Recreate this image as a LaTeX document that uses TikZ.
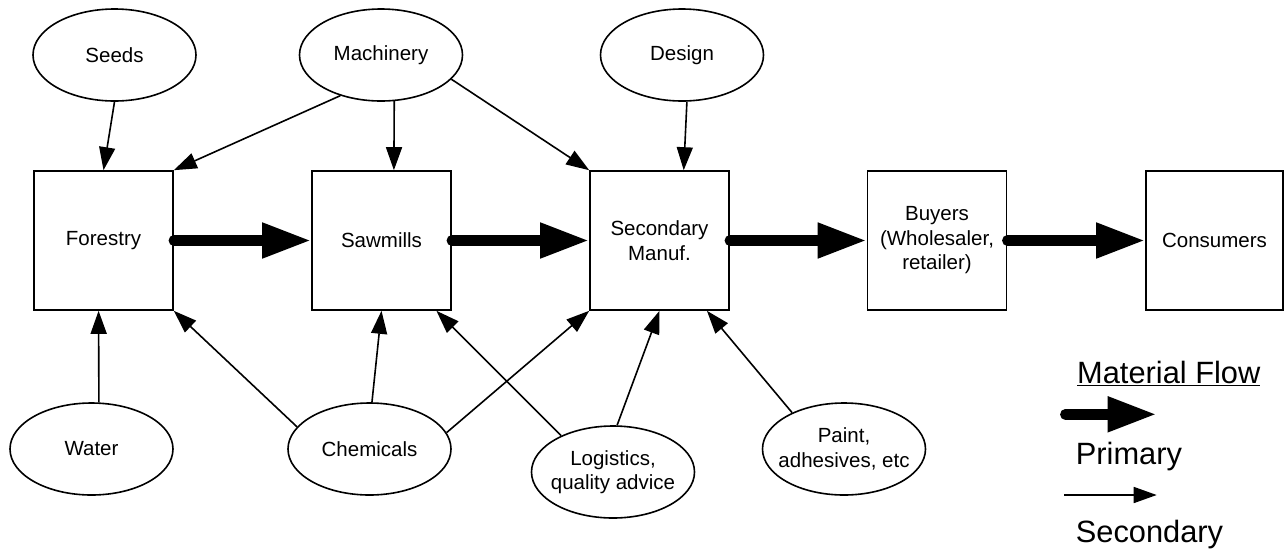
\documentclass[tikz,border=0pt]{standalone}
\usepackage{fontspec}
\setmainfont{Liberation Sans}
\usetikzlibrary{arrows.meta,shapes.geometric}
\tikzset{
	stage/.style={draw,line width=1.6pt,minimum width=139pt,minimum height=139pt,inner sep=0pt,align=center,font=\fontsize{20.5}{24.5}\selectfont},
	input/.style={draw,ellipse,line width=1.6pt,minimum width=163pt,minimum height=92pt,inner xsep=-30pt,inner ysep=-20pt,align=center,font=\fontsize{20.5}{24.5}\selectfont},
	sec/.style={line width=1.6pt,-{Triangle[length=23pt,width=16pt]}},
	prim/.style={line width=10.5pt,line cap=round,-{Triangle[length=49pt,width=33pt]}},
	legend/.style={anchor=base west,inner sep=0pt,font=\fontsize{30.8}{36}\selectfont}
}

\begin{document}
\begin{tikzpicture}[x=1pt,y=-1pt]
	\useasboundingbox (0,0) rectangle (1284,552);
	\node [stage] (forestry) at (103.5,240.5) {Forestry};
	\node [stage] (sawmills) at (381.5,240.5) {Sawmills};
	\node [stage] (secmanuf) at (659.5,240.5) {Secondary\\Manuf.};
	\node [stage] (buyers) at (937,240.5) {Buyers\\(Wholesaler,\\retailer)};
	\node [stage,minimum width=137pt] (consumers) at (1214.5,240.5) {Consumers};

	\node [input] (seeds) at (114.5,55) {Seeds};
	\node [input] (machinery) at (381,55) {Machinery};
	\node [input] (design) at (682,55) {Design};
	\node [input] (water) at (91.5,449) {Water};
	\node [input] (chemicals) at (369.5,449) {Chemicals};
	\node [input] (logistics) at (613,472) {Logistics,\\quality advice};
	\node [input] (paint) at (844,449) {Paint,\\adhesives, etc};

	\draw [prim] (forestry.east) -- (sawmills.west);
	\draw [prim] (sawmills.east) -- (secmanuf.west);
	\draw [prim] (secmanuf.east) -- (buyers.west);
	\draw [prim] (buyers.east) -- (consumers.west);

	\draw [sec] (seeds.south) -- (forestry.north);
	\draw [sec] (machinery.225) -- (forestry.north east);
	\draw [sec] (machinery.-74) -- (sawmills.80);
	\draw [sec] (machinery.-19) -- (secmanuf.north west);
	\draw [sec] (design.-84) -- (secmanuf.71);
	\draw [sec] (water.81) -- (forestry.-94);
	\draw [sec] (chemicals.163) -- (forestry.south east);
	\draw [sec] (chemicals.87) -- (sawmills.south);
	\draw [sec] (chemicals.12) -- (secmanuf.south west);
	\draw [sec] (logistics.145) -- (sawmills.-52);
	\draw [sec] (logistics.85) -- (secmanuf.south);
	\draw [sec] (paint.145) -- (secmanuf.-56);

	\node [legend] (flowtitle) at (1077,383.3) {\underline{Material Flow}};
	\coordinate (pstart) at (1065.3,414.3);
	\coordinate (pend) at (1156.7,414.3);
	\draw [prim] (pstart) -- (pend);
	\node [legend] (primlabel) at (1075.7,464.3) {Primary};
	\coordinate (sstart) at (1064,495);
	\coordinate (send) at (1156.7,495);
	\draw [sec] (sstart) -- (send);
	\node [legend] (seclabel) at (1075.7,542.7) {Secondary};
\end{tikzpicture}
\end{document}
